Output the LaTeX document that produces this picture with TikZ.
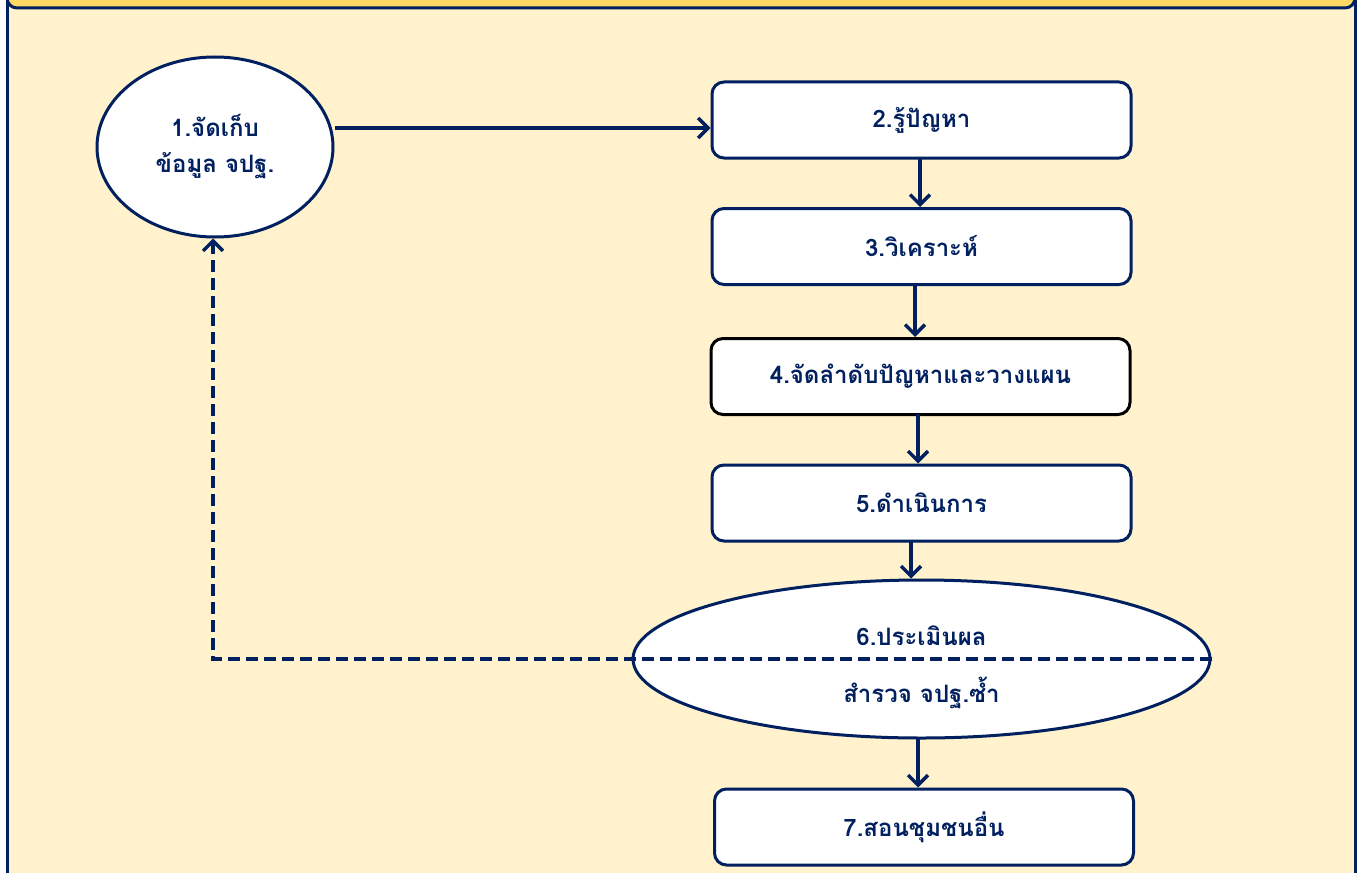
\documentclass[tikz,border=0pt]{standalone}
\usepackage{fontspec}
\newfontfamily\thai[Script=Thai]{Loma}
\usetikzlibrary{arrows.meta,shapes.geometric}
\definecolor{navy}{RGB}{0,32,96}
\definecolor{cream}{RGB}{255,242,204}
\definecolor{gold}{RGB}{255,217,102}
\tikzset{
  labelfont/.style={text=navy,font=\thai\bfseries\fontsize{24}{28}\selectfont},
  stepbox/.style={draw=navy,line width=3pt,fill=white,rounded corners=12pt,minimum width=419pt,minimum height=76pt,inner sep=0pt,labelfont},
  ovalnode/.style={draw=navy,line width=3pt,fill=white,ellipse,inner sep=0pt,labelfont,align=center},
  flow/.style={draw=navy,line width=3.6pt,-{Straight Barb[length=10pt,width=20pt,line width=3.4pt]}},
  backflow/.style={flow,dash pattern=on 12pt off 6pt}
}
\begin{document}
\begin{tikzpicture}[x=1pt,y=-1pt]
\useasboundingbox (0,0) rectangle (1364,872);
% frame
\fill[cream] (7,-20) rectangle (1355,900);
\draw[navy,line width=3pt,fill=gold,rounded corners=10pt] (7,-40) rectangle (1355,8);
\draw[navy,line width=3pt] (7,-20) -- (7,900) (1355,-20) -- (1355,900);
% nodes
\node[ovalnode,minimum width=236pt,minimum height=180pt] (n1) at (215,147) {1.จัดเก็บ\\[8pt]ข้อมูล จปฐ.};
\node[stepbox] (n2) at (921.5,120) {2.รู้ปัญหา};
\node[stepbox] (n3) at (921.5,246.5) {3.วิเคราะห์};
\node[stepbox,draw=black] (n4) at (920.5,376.5) {4.จัดลำดับปัญหาและวางแผน};
\node[stepbox] (n5) at (921.5,503) {5.ดำเนินการ};
\node[ovalnode,minimum width=577pt,minimum height=158pt] (n6) at (921.5,659) {};
\node[labelfont] (t6a) at (921.5,636) {6.ประเมินผล};
\node[labelfont] (t6b) at (921.5,693) {สำรวจ จปฐ.ซ้ำ};
\node[stepbox] (n7) at (924,827) {7.สอนชุมชนอื่น};
% connectors
\draw[flow] (n1.east |- 0,128) -- (n2.west |- 0,128);
\draw[flow] (920,158) -- (n3.north -| 920,0);
\draw[flow] (915,285) -- (n4.north -| 915,0);
\draw[flow] (918,414) -- (n5.north -| 918,0);
\draw[flow] (911,541) -- (n6.north -| 911,0);
\draw[flow] (918,738) -- (n7.north -| 918,0);
\coordinate (corner) at (213,659);
\draw[backflow] (n6.east) -- (corner) -- (n1.south -| corner);
\end{tikzpicture}
\end{document}
